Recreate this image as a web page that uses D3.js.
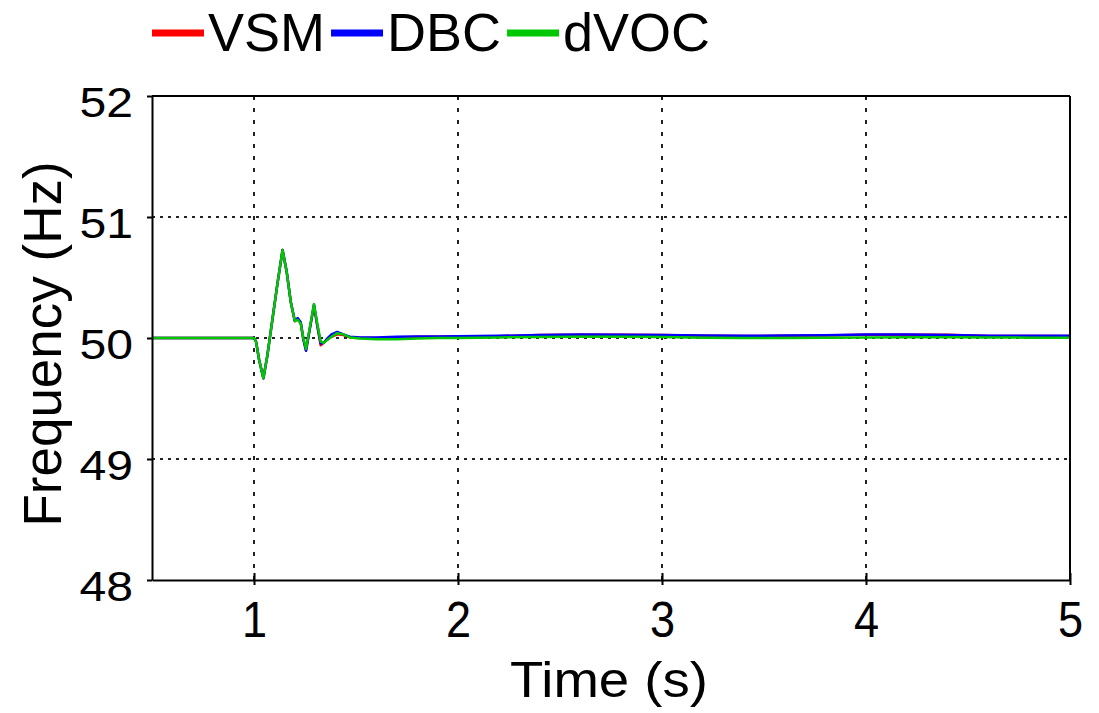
<!DOCTYPE html>
<html>
<head>
<meta charset="utf-8">
<script src="https://cdn.jsdelivr.net/npm/d3@7"></script>
<style>
  html, body { margin: 0; padding: 0; background: #fff; }
  svg { display: block; font-family: "Liberation Sans", Arial, sans-serif; }
</style>
</head>
<body>
<svg id="chart" width="1099" height="713"></svg>
<script>
// ---------------- data ----------------
const seriesNames = ["VSM", "DBC", "dVOC"];
const seriesColors = ["#ff0000", "#0000ff", "#00c800"];
const xTicks = [1, 2, 3, 4, 5];
const yTicks = [48, 49, 50, 51, 52];
const xTitle = "Time (s)";
const yTitle = "Frequency (Hz)";

const times = [0.5, 1.0, 1.01, 1.025, 1.046, 1.065, 1.09, 1.115, 1.14, 1.16, 1.18, 1.2,
  1.214, 1.229, 1.242, 1.255, 1.275, 1.294, 1.31, 1.327, 1.342, 1.356, 1.38, 1.408,
  1.438, 1.47, 1.52, 1.6, 1.7, 1.8, 1.9, 2.0, 2.2, 2.4, 2.6, 2.8, 3.0, 3.2, 3.4, 3.6,
  3.8, 4.0, 4.2, 4.4, 4.6, 4.8, 5.0];

const vsm = [50.0, 50.0, 49.97, 49.82, 49.667, 49.85, 50.15, 50.45, 50.727, 50.55, 50.3, 50.14,
  50.16, 50.125, 49.99, 49.9, 50.09, 50.27, 50.1, 49.94, 49.96, 49.985, 50.01, 50.03,
  50.025, 50.005, 50.0, 50.0, 50.005, 50.01, 50.01, 50.012, 50.015, 50.025, 50.027, 50.027, 50.024, 50.018, 50.016, 50.018,
  50.02, 50.026, 50.027, 50.026, 50.017, 50.017, 50.017];

const dbc = [50.0, 50.0, 49.97, 49.82, 49.667, 49.85, 50.15, 50.45, 50.727, 50.55, 50.3, 50.14,
  50.165, 50.13, 49.99, 49.895, 50.09, 50.275, 50.11, 49.955, 49.96, 49.99, 50.03, 50.05,
  50.03, 50.01, 50.005, 50.005, 50.01, 50.012, 50.012, 50.015, 50.018, 50.025, 50.028, 50.027, 50.025, 50.02, 50.018, 50.02,
  50.022, 50.028, 50.028, 50.025, 50.018, 50.018, 50.018];

const dvoc = [50.0, 50.0, 49.97, 49.82, 49.667, 49.85, 50.15, 50.45, 50.727, 50.55, 50.3, 50.14,
  50.15, 50.12, 50.0, 49.91, 50.1, 50.28, 50.12, 49.97, 49.96, 49.98, 50.01, 50.04,
  50.03, 50.005, 49.995, 49.99, 49.99, 49.995, 50.0, 50.0, 50.005, 50.008, 50.01, 50.01, 50.008, 50.003, 50.0, 50.0,
  50.003, 50.005, 50.006, 50.006, 50.004, 50.003, 50.003];

const seriesValues = [vsm, dbc, dvoc];

// ---------------- layout ----------------
const svg = d3.select("#chart");
const pLeft = 152, pRight = 1070, pTop = 96, pBottom = 580;

const x = d3.scaleLinear().domain([0.5, 5]).range([pLeft, pRight]);
const y = d3.scaleLinear().domain([48, 52]).range([pBottom, pTop]);

// grid
const grid = svg.append("g").attr("class", "grid");
grid.selectAll("line.v").data(xTicks.filter(d => d < 5)).enter().append("line")
  .attr("x1", d => x(d)).attr("x2", d => x(d))
  .attr("y1", pTop).attr("y2", pBottom)
  .attr("stroke", "#222").attr("stroke-width", 2).attr("stroke-dasharray", "4,8");
grid.selectAll("line.h").data(yTicks.filter(d => d > 48 && d < 52)).enter().append("line")
  .attr("x1", pLeft).attr("x2", pRight)
  .attr("y1", d => y(d)).attr("y2", d => y(d))
  .attr("stroke", "#222").attr("stroke-width", 2).attr("stroke-dasharray", "3,5");

// clip
svg.append("clipPath").attr("id", "clip").append("rect")
  .attr("x", pLeft).attr("y", pTop).attr("width", pRight - pLeft).attr("height", pBottom - pTop);

const line = d3.line().x((d, i) => x(times[i])).y(d => y(d));
svg.append("g").attr("clip-path", "url(#clip)")
  .selectAll("path").data(seriesValues).enter().append("path")
  .attr("d", d => line(d))
  .attr("fill", "none")
  .attr("stroke", (d, i) => seriesColors[i])
  .attr("stroke-width", 2.5)
  .attr("stroke-linejoin", "round");

// axes
const xAxis = svg.append("g").attr("transform", `translate(0,${pBottom})`)
  .call(d3.axisBottom(x).tickValues(xTicks).tickSizeInner(5).tickSizeOuter(0).tickFormat(d3.format("d")));
xAxis.select(".domain").attr("stroke", "#000").attr("stroke-width", 2);
xAxis.selectAll(".tick line").attr("y1", -7).attr("y2", 5).attr("stroke", "#000").attr("stroke-width", 2);
xAxis.selectAll(".tick text").attr("y", null).attr("dy", null)
  .attr("transform", "translate(0,57) scale(0.94,1.04)")
  .attr("font-size", 48).attr("fill", "#000");

const yAxis = svg.append("g").attr("transform", `translate(${pLeft},0)`)
  .call(d3.axisLeft(y).tickValues(yTicks).tickSizeInner(5).tickSizeOuter(0).tickFormat(d3.format("d")));
yAxis.select(".domain").attr("stroke", "#000").attr("stroke-width", 2);
yAxis.selectAll(".tick line").attr("stroke", "#000").attr("stroke-width", 2);
yAxis.selectAll(".tick text").attr("x", null).attr("dy", null)
  .attr("transform", "translate(-19,20) scale(1.12,1)")
  .attr("font-size", 43).attr("fill", "#000");

// box top and right
svg.append("line").attr("x1", pLeft).attr("x2", pRight).attr("y1", pTop).attr("y2", pTop)
  .attr("stroke", "#000").attr("stroke-width", 2);
svg.append("line").attr("x1", pRight).attr("x2", pRight).attr("y1", pTop).attr("y2", pBottom)
  .attr("stroke", "#000").attr("stroke-width", 2);

// axis titles
svg.append("text").attr("x", 609).attr("y", 697)
  .attr("text-anchor", "middle").attr("font-size", 50)
  .attr("textLength", 198).attr("lengthAdjust", "spacingAndGlyphs")
  .text(xTitle);

svg.append("text").attr("transform", "translate(61,344) rotate(-90)")
  .attr("text-anchor", "middle").attr("font-size", 53)
  .text(yTitle);

// legend
const legend = svg.append("g");
let lx = 152;
seriesNames.forEach((name, i) => {
  legend.append("line").attr("x1", lx).attr("x2", lx + 52).attr("y1", 33).attr("y2", 33)
    .attr("stroke", seriesColors[i]).attr("stroke-width", 7);
  const t = legend.append("text").attr("x", lx + 56).attr("y", 51)
    .attr("font-size", 54).attr("fill", "#000").text(name);
  lx = lx + 56 + t.node().getComputedTextLength() + 6;
});
</script>
</body>
</html>
